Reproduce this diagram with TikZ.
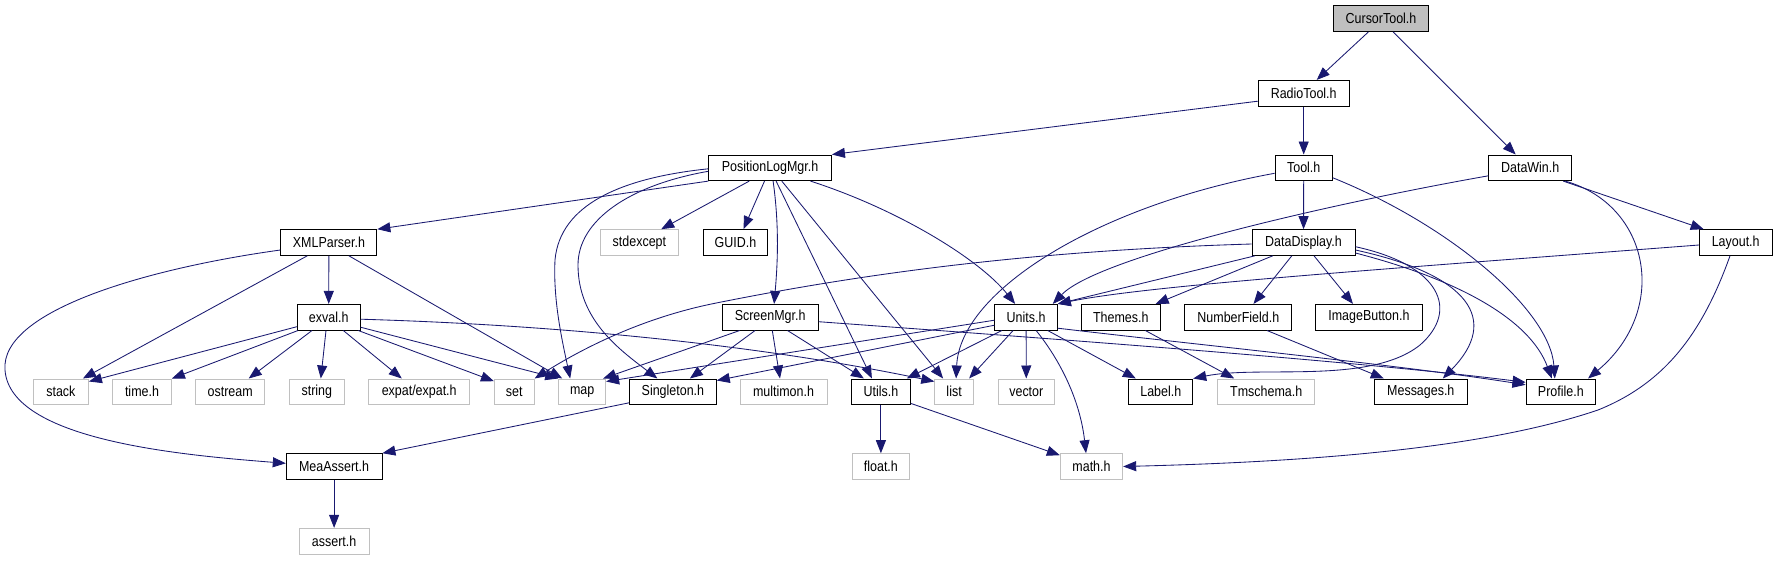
\documentclass[tikz,border=0pt]{standalone}
\usepackage{fontspec}
\setmainfont{Liberation Sans}[FakeStretch=0.86]
\usetikzlibrary{arrows.meta,calc}
\definecolor{edgeblue}{HTML}{191970}
\definecolor{extgray}{HTML}{C0C0C0}
\definecolor{rootgray}{HTML}{BFBFBF}
\newcommand{\nodefont}{\fontsize{14.5}{17}\selectfont}
\tikzset{
  doc/.style={draw=black, line width=0.9pt, fill=white, minimum height=25.7pt, inner sep=0pt, font=\nodefont, text=black},
  ext/.style={draw=extgray, line width=0.9pt, fill=white, minimum height=25.7pt, inner sep=0pt, font=\nodefont, text=black},
  e/.style={draw=edgeblue, line width=0.85pt, -{Triangle[length=13pt,width=10pt]}, color=edgeblue},
}
\begin{document}
\begin{tikzpicture}[x=1pt,y=-1pt]
\useasboundingbox[fill=white] (0,0) rectangle (1777,560);
% row 0
\node[doc, fill=rootgray, minimum width=95pt] (cursor) at (1381,18.7) {CursorTool.h};
% row 1
\node[doc, minimum width=91pt] (radio) at (1303.7,93.2) {RadioTool.h};
% row 2
\node[doc, minimum width=57.4pt] (tool) at (1303.7,167.8) {Tool.h};
\node[doc, minimum width=82.6pt] (datawin) at (1530.2,167.8) {DataWin.h};
\node[doc, minimum width=122.8pt] (plm) at (770.1,167.8) {PositionLogMgr.h};
% row 3
\node[doc, minimum width=96pt] (xml) at (328.9,242.5) {XMLParser.h};
\node[ext, minimum width=78.8pt] (stdexcept) at (639.4,242.5) {stdexcept};
\node[doc, minimum width=64.3pt] (guid) at (735.5,242.5) {GUID.h};
\node[doc, minimum width=103pt] (dd) at (1303.5,242.5) {DataDisplay.h};
\node[doc, minimum width=72.7pt] (layout) at (1735.7,242.5) {Layout.h};
% row 4
\node[doc, minimum width=62.8pt] (exval) at (328.7,317.2) {exval.h};
\node[doc, minimum width=96pt] (screen) at (770.1,317.2) {ScreenMgr.h};
\node[doc, minimum width=62.4pt] (units) at (1026.1,317.2) {Units.h};
\node[doc, minimum width=78.8pt] (themes) at (1120.8,317.2) {Themes.h};
\node[doc, minimum width=107.1pt] (numfield) at (1238.3,317.2) {NumberField.h};
\node[doc, minimum width=106.8pt] (imgbtn) at (1368.9,317.2) {ImageButton.h};
% row 5
\node[ext, minimum width=55.1pt] (stack) at (60.9,391.8) {stack};
\node[ext, minimum width=58.9pt] (time) at (142,391.8) {time.h};
\node[ext, minimum width=69.3pt] (ostream) at (230.2,391.8) {ostream};
\node[ext, minimum width=55.1pt] (string) at (316.8,391.8) {string};
\node[ext, minimum width=101.4pt] (expat) at (419.2,391.8) {expat/expat.h};
\node[ext, minimum width=39.8pt] (set) at (514.3,391.8) {set};
\node[ext, minimum width=47pt] (map) at (582.2,391.8) {map};
\node[doc, minimum width=86.8pt] (singleton) at (672.9,391.8) {Singleton.h};
\node[ext, minimum width=86.9pt] (multimon) at (783.5,391.8) {multimon.h};
\node[doc, minimum width=58.9pt] (utils) at (880.9,391.8) {Utils.h};
\node[ext, minimum width=38.7pt] (list) at (954.1,391.8) {list};
\node[ext, minimum width=55.9pt] (vector) at (1026.3,391.8) {vector};
\node[doc, minimum width=63.9pt] (label) at (1160.8,391.8) {Label.h};
\node[ext, minimum width=97.2pt] (tmschema) at (1266.2,391.8) {Tmschema.h};
\node[doc, minimum width=93.3pt] (messages) at (1420.8,391.8) {Messages.h};
\node[doc, minimum width=69.6pt] (profile) at (1560.8,391.8) {Profile.h};
% row 6
\node[doc, minimum width=95.7pt] (mea) at (334.1,466.5) {MeaAssert.h};
\node[ext, minimum width=57.4pt] (float) at (880.9,466.5) {float.h};
\node[ext, minimum width=62.4pt] (math) at (1091.5,466.5) {math.h};
% row 7
\node[ext, minimum width=69.7pt] (assert) at (334.1,541.2) {assert.h};

% CursorTool, RadioTool, Tool, DataWin, Layout
\draw[e] ($(cursor.south)+(-12.7,0)$) -- ($(radio.north)+(13,0)$);
\draw[e] ($(cursor.south)+(12.2,0)$) -- ($(datawin.north)+(-14.5,0)$);
\draw[e] ($(radio.west)+(0,8)$) -- (plm.north east);
\draw[e] (radio) -- (tool);
\draw[e] (tool) -- (dd);
\draw[e] ($(tool.west)+(0,5.5)$) .. controls (1100,205) and (960,290) .. ($(list.north)+(2,0)$);
\draw[e] ($(tool.east)+(0,10)$) .. controls (1450,225) and (1550,310) .. ($(profile.north)+(-6,0)$);
\draw[e] ($(datawin.west)+(0,8)$) .. controls (1350,200) and (1100,255) .. ($(units.north east)+(-5,0)$);
\draw[e] ($(datawin.south)+(33,0)$) -- ($(layout.north)+(-32,0)$);
\draw[e] ($(datawin.south)+(35,0)$) .. controls (1650,205) and (1670,310) .. ($(profile.north east)+(-8,0)$);
\draw[e] ($(layout.west)+(0,2.5)$) .. controls (1400,268) and (1150,285) .. (units.north east);
\draw[e] ($(layout.south)+(-5.7,0)$) .. controls (1700,340) and (1660,385) .. (1598,410) .. controls (1480,450) and (1300,462) .. (math.east);

% DataDisplay
\draw[e] ($(dd.west)+(0,1.5)$) .. controls (1050,250) and (880,270) .. (714.8,303.3) .. controls (640,318.3) and (580,350) .. (set.north east);
\draw[e] ($(dd.south west)+(3.4,0)$) -- (units.north east);
\draw[e] ($(dd.south)+(-30.8,0)$) -- ($(themes.north east)+(-5,0)$);
\draw[e] ($(dd.south)+(-11.7,0)$) -- ($(numfield.north)+(15.2,0)$);
\draw[e] ($(dd.south)+(10.5,0)$) -- ($(imgbtn.north)+(-15.9,0)$);
\draw[e] ($(dd.east)+(0,4.2)$) .. controls (1440,265) and (1460,310) .. (1420,345) .. controls (1370,385) and (1260,365) .. (label.north east);
\draw[e] ($(dd.east)+(0,7.5)$) .. controls (1470,275) and (1500,320) .. ($(messages.north)+(22,0)$);
\draw[e] ($(dd.east)+(0,10.5)$) .. controls (1460,280) and (1530,320) .. ($(profile.north)+(-9,0)$);
\draw[e] ($(themes.south)+(24.5,0)$) -- ($(tmschema.north)+(-32,0)$);
\draw[e] ($(numfield.south)+(28.7,0)$) -- ($(messages.north)+(-37,0)$);

% Units
\draw[e] ($(units.west)+(0,3)$) -- ($(map.north east)+(0,3)$);
\draw[e] ($(units.west)+(0,8)$) -- ($(singleton.north east)+(0,2)$);
\draw[e] ($(units.south)+(-24.3,0)$) -- ($(utils.north east)+(-4,0)$);
\draw[e] ($(units.south)+(-13,0)$) -- ($(list.north)+(15,0)$);
\draw[e] (units) -- (vector);
\draw[e] ($(units.south)+(10,0)$) .. controls (1060,360) and (1080,400) .. ($(math.north)+(-5.5,0)$);
\draw[e] ($(units.south)+(21.6,0)$) -- ($(label.north)+(-25,0)$);
\draw[e] ($(units.east)+(0,11)$) .. controls (1200,345) and (1400,365) .. ($(profile.west)+(0,-7)$);

% ScreenMgr
\draw[e] ($(screen.east)+(0,4.5)$) .. controls (1000,335) and (1350,360) .. ($(profile.west)+(0,-9.5)$);
\draw[e] ($(screen.south)+(-30.4,0)$) -- ($(map.north east)+(-3,0)$);
\draw[e] ($(screen.south)+(-15,0)$) -- ($(singleton.north)+(17,0)$);
\draw[e] ($(screen.south)+(2.2,0)$) -- ($(multimon.north)+(-3.5,0)$);
\draw[e] ($(screen.south)+(17.4,0)$) -- ($(utils.north)+(-17,0)$);

% PositionLogMgr
\draw[e] ($(plm.south)+(-5.6,0)$) -- ($(guid.north)+(8,0)$);
\draw[e] ($(plm.south)+(-20.9,0)$) -- ($(stdexcept.north)+(21.8,0)$);
\draw[e] ($(plm.south)+(3,0)$) .. controls (780,230) and (777,270) .. ($(screen.north)+(4,0)$);
\draw[e] ($(plm.south)+(6,0)$) -- ($(utils.north)+(-9,0)$);
\draw[e] ($(plm.south)+(11.7,0)$) -- ($(list.north)+(-11,0)$);
\draw[e] ($(plm.south)+(40.4,0)$) .. controls (900,210) and (980,260) .. ($(units.north)+(-11,0)$);
\draw[e] (plm.south west) -- (xml.north east);
\draw[e] ($(plm.west)+(0,1)$) .. controls (620,178) and (560,205) .. (555,260) .. controls (553,300) and (562,340) .. ($(map.north)+(-12,0)$);
\draw[e] ($(plm.west)+(0,3.5)$) .. controls (630,185) and (578,220) .. (578,265) .. controls (578,320) and (620,350) .. ($(singleton.north)+(-15.5,0)$);

% XMLParser
\draw[e] ($(xml.south)+(-21.6,0)$) -- ($(stack.north east)+(-6,0)$);
\draw[e] (xml) -- (exval);
\draw[e] ($(xml.south)+(20,0)$) -- ($(map.north west)+(4,0)$);
\draw[e] ($(xml.west)+(0,7.5)$) .. controls (150,268) and (0,310) .. (5,370) .. controls (10,440) and (180,455) .. ($(mea.west)+(0,-3.2)$);

% Singleton, MeaAssert
\draw[e] ($(singleton.west)+(0,11)$) -- (mea.north east);
\draw[e] (mea) -- (assert);

% exval
\draw[e] ($(exval.west)+(0,9.5)$) -- ($(stack.north east)+(0,3)$);
\draw[e] ($(exval.south west)+(1.2,0)$) -- (time.north east);
\draw[e] ($(exval.south)+(-16.7,0)$) -- ($(ostream.north)+(18.5,0)$);
\draw[e] ($(exval.south)+(-2.7,0)$) -- ($(string.north)+(4,0)$);
\draw[e] ($(exval.south)+(14.6,0)$) -- ($(expat.north)+(-17.4,0)$);
\draw[e] ($(exval.south east)+(-2.3,0)$) -- ($(set.north west)+(0,2.7)$);
\draw[e] ($(exval.east)+(0,10)$) -- (map.north west);
\draw[e] ($(exval.east)+(0,2)$) .. controls (560,325) and (760,345) .. ($(list.north west)+(0,3)$);

% Utils
\draw[e] (utils) -- (float);
\draw[e] ($(utils.south east)+(0,-1.7)$) -- ($(math.north west)+(0,2)$);
\end{tikzpicture}
\end{document}
